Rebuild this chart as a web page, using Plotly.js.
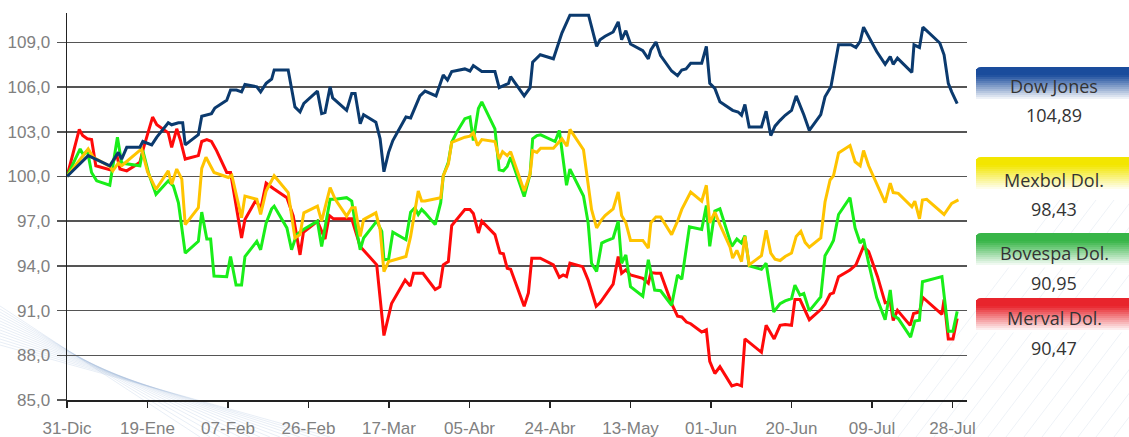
<!DOCTYPE html>
<html>
<head>
<meta charset="utf-8">
<script src="https://cdn.plot.ly/plotly-3.0.1.min.js"></script>
<style>
  html, body { margin: 0; padding: 0; background: #ffffff; }
  #chart { width: 1129px; height: 437px; }
</style>
</head>
<body>
<div id="chart"></div>
<script>
// ---- Data (days since 31-Dic, index base 100) ----
const xTickDays = [0, 19, 38, 57, 76, 95, 114, 133, 152, 171, 190, 209];
const xTickLabels = ['31-Dic', '19-Ene', '07-Feb', '26-Feb', '17-Mar', '05-Abr', '24-Abr', '13-May', '01-Jun', '20-Jun', '09-Jul', '28-Jul'];
const yTickVals = [85, 88, 91, 94, 97, 100, 103, 106, 109];

const seriesNames = ['Dow Jones', 'Mexbol Dol.', 'Bovespa Dol.', 'Merval Dol.'];
const seriesLast = ['104,89', '98,43', '90,95', '90,47'];

const dowDays = [0,5.0,10.1,12.1,12.9,14.1,17.2,17.9,20.0,21.2,23.9,24.7,26.3,27.3,27.9,31.0,31.8,34.1,34.9,37.7,38.6,40.0,41.2,42.0,
  44.8,45.7,47.0,48.3,48.9,52.2,53.8,55.0,55.9,59.1,60.1,60.9,62.1,62.7,66.0,67.2,68.0,69.2,70.0,72.9,73.9,74.8,75.9,76.9,80.0,81.1,83.3,84.5,
  87.1,88.8,89.8,90.8,93.9,95.1,95.9,97.9,101.0,102.0,104.2,104.7,107.9,109.3,109.9,111.7,114.8,116.8,118.7,123.1,125.0,125.8,127.0,
  128.9,130.1,130.9,131.9,133.0,135.9,137.2,137.8,139.0,140.1,142.7,144.1,145.1,146.1,147.2,149.8,150.9,151.7,152.9,154.1,156.5,157.1,158.4,159.2,160.0,161.0,163.9,165.0,166.1,167.1,168.3,169.5,
  171.0,172.1,173.9,175.2,177.9,178.9,180.3,182.1,185.0,186.2,187.2,188.0,191.1,193.1,194.3,195.0,196.0,199.4,199.9,201.2,202.0,206.0,207.0,208.0,208.8,210.1];
const dowVals = [100,101.40,100.72,101.62,101.17,101.96,101.96,102.35,102.12,102.64,103.61,103.47,103.61,103.61,102.12,102.80,104.04,104.22,104.60,105.12,105.80,105.80,105.68,106.18,
  106.02,105.68,106.25,106.54,107.15,107.15,104.67,104.33,104.90,105.73,104.22,104.29,106.02,105.28,104.44,105.57,105.57,103.54,104.15,103.65,102.53,100.32,101.62,102.41,103.99,103.93,105.41,105.73,
  105.41,106.81,106.47,107.04,107.22,107.08,107.44,107.04,107.04,105.96,106.25,106.70,105.41,105.96,107.67,108.17,107.90,109.63,110.83,110.83,108.73,109.18,109.41,
  109.70,110.38,109.18,109.79,108.89,108.44,107.90,108.50,109.02,108.12,107.08,106.77,107.15,107.22,107.60,107.60,108.73,106.25,105.91,105.01,104.56,104.44,104.33,104.11,104.83,103.32,103.32,104.38,102.75,103.38,103.77,104.11,
  104.44,105.41,104.15,103.09,104.15,105.35,106.02,108.84,108.84,108.66,109.07,110.02,108.39,107.53,108.05,107.53,107.94,106.99,108.84,108.66,110.02,108.96,108.17,106.25,105.68,104.89];

const mexDays = [0,5.0,6.2,10.1,10.8,12.1,12.9,17.6,19.0,21.0,23.9,24.7,25.9,27.1,27.9,31.0,31.8,32.8,34.7,38.1,38.9,41.2,42.0,
  44.8,45.7,47.0,48.9,52.2,53.8,55.0,55.9,59.1,60.1,62.1,63.3,66.0,67.2,68.0,69.2,70.0,72.9,73.9,74.8,75.9,80.0,81.1,82.9,83.7,84.5,
  87.3,88.2,88.8,90.0,90.8,93.9,95.1,95.9,96.9,97.9,101.0,102.0,102.8,103.9,104.7,107.9,109.3,109.9,110.9,111.8,114.8,116.8,118.0,118.7,121.9,123.8,125.0,126.2,127.0,
  128.9,130.1,130.9,131.9,133.0,135.9,137.2,137.8,139.0,140.1,142.7,144.1,145.1,147.2,149.8,150.9,151.7,152.9,154.1,156.5,157.1,158.1,159.2,160.0,161.0,163.9,165.0,166.1,167.1,168.3,169.5,
  171.0,172.1,173.2,174.2,175.2,177.9,178.9,180.1,180.9,182.1,184.8,186.0,187.2,188.0,189.2,191.5,193.1,194.3,195.0,196.2,199.4,200.1,201.2,201.9,202.9,207.0,208.0,208.8,210.4];
const mexVals = [100,101.85,101.29,100.68,100.38,100.90,100.72,101.85,100.32,99.14,100.38,99.48,100.50,99.82,96.77,97.90,100.54,101.29,100.27,99.93,100.09,97.23,98.69,
  98.47,97.45,99.03,100.05,98.92,95.87,96.10,97.56,98.01,97.00,99.26,98.47,97.34,97.90,97.90,95.98,97.11,97.56,96.44,93.62,94.29,94.63,95.98,99.03,98.35,98.35,
  98.51,98.58,100.05,100.83,102.30,102.64,102.71,102.93,102.08,102.48,102.35,101.17,101.67,101.40,101.67,99.03,100.16,101.74,101.62,101.89,101.89,102.53,102.03,103.16,101.80,97.79,96.55,97.11,97.38,
  97.83,98.96,97.38,96.89,95.71,95.71,95.20,96.89,97.29,97.29,96.10,97.00,97.79,98.96,98.35,99.41,96.89,97.61,96.77,95.26,94.52,95.04,94.29,95.98,94.07,94.68,96.39,94.86,94.45,94.36,94.63,
  94.86,95.98,96.32,95.58,95.26,95.87,98.29,99.77,100.05,101.58,102.08,100.99,100.72,101.74,100.72,99.26,98.24,99.55,98.92,98.87,97.97,98.35,97.16,98.42,98.47,97.45,97.90,98.20,98.43];

const bovDays = [0,3.1,3.9,4.8,5.8,7.0,10.1,11.9,12.9,17.2,17.9,19.2,21.0,23.9,25.1,26.3,27.9,31.0,31.8,33.0,33.9,34.7,37.7,38.6,39.9,41.2,42.0,
  44.8,45.7,47.0,48.3,48.9,51.9,53.0,54.2,55.8,59.1,60.1,62.1,63.3,66.0,67.2,68.0,69.2,70.0,73.1,74.3,74.8,75.9,76.9,80.0,81.1,82.1,82.9,83.7,84.5,
  86.9,88.2,88.8,90.0,90.8,92.0,93.9,95.1,95.9,97.1,97.9,101.0,102.0,103.0,103.9,104.7,107.9,109.3,109.9,110.9,111.8,115.2,116.2,117.9,118.7,121.9,123.0,123.8,125.0,126.2,127.0,
  128.9,130.1,130.9,131.9,133.0,135.9,137.2,138.7,140.1,142.7,144.1,145.1,146.9,149.8,150.9,151.7,152.9,154.1,156.9,158.1,159.2,160.0,161.0,163.9,165.0,166.8,168.3,169.5,
  171.0,171.8,173.0,173.9,175.2,177.9,178.9,180.1,180.9,182.1,184.8,186.0,187.2,188.0,189.2,191.1,193.1,194.3,195.0,196.2,199.1,200.1,201.2,201.9,206.5,208.0,209.1,210.1];
const bovVals = [100,101.85,101.44,101.74,100.27,99.71,99.41,102.64,100.90,100.72,101.74,100.27,98.80,99.71,99.37,98.24,94.86,95.65,97.61,95.80,95.80,93.32,93.28,94.63,92.71,92.71,94.63,
  95.65,95.08,96.89,97.83,98.01,96.55,95.08,96.10,96.44,97.00,95.31,98.47,98.47,98.58,98.35,96.89,95.08,95.87,97.00,96.32,94.41,94.45,96.26,95.76,97.61,97.90,97.45,97.79,97.56,
  96.77,98.24,100.05,100.95,102.30,102.98,103.88,103.99,102.41,104.56,105.01,103.20,100.45,100.38,100.68,101.29,98.65,100.16,102.53,102.75,102.80,102.35,103.09,99.41,100.50,98.69,96.89,94.18,93.62,95.53,95.65,
  95.87,97.00,94.18,94.74,92.60,91.97,94.41,92.38,92.33,91.36,93.39,93.10,96.62,96.44,98.06,95.31,97.68,97.83,95.31,95.80,95.53,96.03,94.00,93.77,94.18,90.91,91.47,91.65,
  91.81,92.71,92.04,92.15,90.98,91.92,94.68,95.26,95.71,97.45,98.58,96.55,95.53,95.80,94.18,91.88,90.39,92.38,90.68,90.46,89.22,90.30,90.35,92.94,93.28,89.62,89.62,90.95];

const merDays = [0,2.9,3.7,4.8,5.8,6.8,10.1,11.7,12.5,14.1,16.0,17.2,18.0,20.2,21.2,23.9,24.7,25.9,26.8,27.9,31.0,31.8,33.0,34.1,35.3,37.7,38.6,39.9,41.2,42.0,
  44.6,45.7,47.0,48.7,51.9,53.4,55.0,55.8,59.1,60.9,61.9,62.9,67.2,69.2,73.1,74.8,76.6,79.8,81.0,81.8,84.0,
  86.9,88.0,88.8,90.0,90.8,93.9,95.1,95.9,97.1,97.9,101.0,102.2,103.0,103.9,104.7,107.9,108.9,109.7,111.7,114.8,116.2,117.1,117.9,118.7,121.7,123.0,124.9,
  125.8,128.9,130.1,130.9,131.9,133.0,135.9,137.2,137.8,139.0,140.1,142.7,144.1,145.1,146.2,147.2,149.8,150.9,151.7,152.9,154.1,156.9,158.1,159.2,160.0,163.9,165.0,166.9,168.3,169.5,
  171.0,171.8,173.0,175.2,177.9,178.9,180.1,180.9,182.1,184.8,186.2,188.0,189.2,191.3,193.1,194.3,195.0,196.0,199.0,199.8,201.2,202.0,206.5,207.0,208.0,209.1,210.1];
const merVals = [100,103.16,102.75,102.53,102.48,100.72,100.45,101.51,100.50,100.38,100.72,100.95,101.85,103.99,103.47,102.93,101.96,103.20,102.41,101.17,101.40,102.35,102.48,102.35,101.74,100.27,100.27,98.01,95.87,97.11,
  98.42,97.79,99.55,99.19,98.58,97.34,94.74,96.26,97.00,95.80,97.38,97.16,97.16,95.31,94.07,89.33,91.47,93.05,92.65,93.50,93.50,
  92.42,92.60,94.07,94.29,96.71,97.79,97.79,97.52,96.21,97.00,96.10,94.86,94.81,93.84,93.77,91.29,92.19,94.52,94.52,94.07,93.23,93.39,93.28,94.18,93.95,93.05,91.29,
  91.52,92.78,94.63,93.50,93.73,93.39,93.16,92.83,93.55,93.50,93.50,91.47,90.62,90.57,90.23,90.12,89.56,89.71,87.59,86.78,87.23,85.95,86.06,85.95,89.10,88.20,90.01,89.10,90.01,90.07,
  90.01,91.74,91.74,90.39,91.07,91.43,92.10,92.19,93.28,93.73,94.07,95.31,94.97,93.28,91.52,91.59,90.34,91.02,90.01,90.80,90.91,91.88,90.75,91.74,89.10,89.10,90.47];

// ---- Styling ----
const lineColors = ['#0b3a6e', '#ffc400', '#19ee19', '#ff0a0a'];
const boxColors = ['#1a4c9c', '#f3e600', '#38b548', '#e8242c'];

const W = 1129, H = 437;
const M = { l: 67, r: 162, t: 13, b: 37 };
const PW = W - M.l - M.r, PH = H - M.t - M.b;
const px = X => (X - M.l) / PW;
const py = Y => (H - M.b - Y) / PH;

function line(days, vals, color) {
  return { x: days, y: vals, type: 'scatter', mode: 'lines',
           line: { color: color, width: 3, shape: 'linear' }, hoverinfo: 'skip', showlegend: false };
}
const traces = [
  line(merDays, merVals, lineColors[3]),
  line(bovDays, bovVals, lineColors[2]),
  line(mexDays, mexVals, lineColors[1]),
  line(dowDays, dowVals, lineColors[0])
];

function hexToRgb(h) {
  return [parseInt(h.slice(1,3),16), parseInt(h.slice(3,5),16), parseInt(h.slice(5,7),16)];
}
const shapes = [];
// decorative faint lines (background)
for (let i = 0; i < 14; i++) {
  shapes.push({ type: 'line', xref: 'paper', yref: 'paper', layer: 'below',
    x0: px(0), y0: py(306 + i * 3), x1: px(200 + i * 10), y1: py(437),
    line: { color: 'rgba(150,178,212,0.22)', width: 1 } });
}
for (let i = 0; i < 14; i++) {
  shapes.push({ type: 'line', xref: 'paper', yref: 'paper', layer: 'below',
    x0: px(880 + i * 18), y0: py(437), x1: px(1060 + i * 18), y1: py(200),
    line: { color: 'rgba(170,190,215,0.2)', width: 1 } });
}
// gradient legend boxes
const boxTops = [67, 157, 233, 298];
const boxH = 34;
const labelY = [86, 180, 253, 318];
const valueY = [115, 209, 283, 348];
const annotations = [];
boxTops.forEach((top, k) => {
  const rgb = hexToRgb(boxColors[k]);
  const N = 17;
  for (let i = 0; i < N; i++) {
    const t = i / (N - 1);
    const a = t < 0.22 ? 1 : Math.max(0, 1 - (t - 0.22) / 0.78);
    const c = rgb.map(v => Math.round(v * a + 255 * (1 - a)));
    const y0 = top + i * boxH / N, y1 = top + (i + 1) * boxH / N + 0.6;
    const col = 'rgb(' + c.join(',') + ')';
    if (i === 0) {
      const r = 5, X0 = 976, X1 = 1135;
      const path = 'M ' + px(X0) + ' ' + py(y1) + ' L ' + px(X0) + ' ' + py(top + r) +
        ' Q ' + px(X0) + ' ' + py(top) + ' ' + px(X0 + r) + ' ' + py(top) +
        ' L ' + px(X1) + ' ' + py(top) + ' L ' + px(X1) + ' ' + py(y1) + ' Z';
      shapes.push({ type: 'path', xref: 'paper', yref: 'paper', path: path,
        fillcolor: col, line: { width: 0 }, layer: 'above' });
    } else {
      shapes.push({ type: 'rect', xref: 'paper', yref: 'paper',
        x0: px(976), x1: px(1135), y0: py(y1), y1: py(y0),
        fillcolor: col, line: { width: 0 }, layer: 'above' });
    }
  }
  annotations.push({ xref: 'paper', yref: 'paper', x: px(1054), y: py(labelY[k]),
    text: seriesNames[k], showarrow: false, xanchor: 'center', yanchor: 'middle',
    font: { family: 'Open Sans, Noto Sans, sans-serif', size: 18, color: '#333333' } });
  annotations.push({ xref: 'paper', yref: 'paper', x: px(1054), y: py(valueY[k]),
    text: seriesLast[k], showarrow: false, xanchor: 'center', yanchor: 'middle',
    font: { family: 'Open Sans, Noto Sans, sans-serif', size: 18, color: '#333333' } });
});

const layout = {
  width: W, height: H,
  margin: M,
  paper_bgcolor: '#ffffff',
  plot_bgcolor: 'rgba(0,0,0,0)',
  separators: ',.',
  showlegend: false,
  font: { family: 'Liberation Sans, Arial, sans-serif', size: 17, color: '#808080' },
  xaxis: {
    range: [0, PW / 4.237],
    tickmode: 'array', tickvals: xTickDays, ticktext: xTickLabels,
    showgrid: false, zeroline: false,
    showline: true, linecolor: '#222222', linewidth: 1.5,
    ticks: 'outside', ticklen: 6, tickwidth: 1.5, tickcolor: '#222222',
    ticklabelstandoff: 6,
    tickfont: { family: 'Liberation Sans, Arial, sans-serif', size: 17, color: '#808080' },
    fixedrange: true
  },
  yaxis: {
    range: [85, 85 + PH / 14.9],
    tickmode: 'array', tickvals: yTickVals, tickformat: '.1f',
    showgrid: true, gridcolor: '#555555', gridwidth: 1.5,
    zeroline: false,
    showline: true, linecolor: '#222222', linewidth: 1.5,
    ticks: 'outside', ticklen: 9, tickwidth: 1.5, tickcolor: '#555555',
    ticklabelstandoff: 3,
    tickfont: { family: 'Liberation Sans, Arial, sans-serif', size: 17, color: '#808080' },
    fixedrange: true
  },
  shapes: shapes,
  annotations: annotations
};

Plotly.newPlot('chart', traces, layout, { staticPlot: true, displayModeBar: false });
</script>
</body>
</html>
